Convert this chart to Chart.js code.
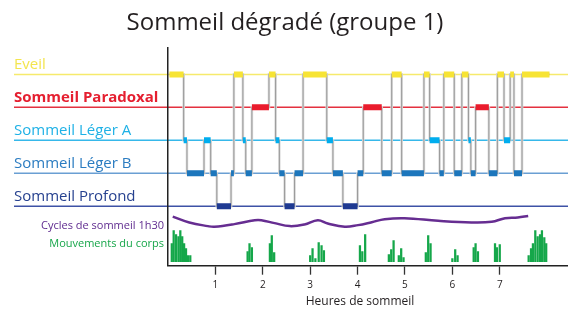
<!DOCTYPE html>
<html lang="fr">
<head>
<meta charset="utf-8">
<title>Sommeil dégradé (groupe 1)</title>
<script src="https://cdn.jsdelivr.net/npm/chart.js@4.4.1/dist/chart.umd.min.js"></script>
<style>
  html, body { margin: 0; padding: 0; background: #fff; }
  #hypno { display: block; }
</style>
</head>
<body>
<canvas id="hypno" width="568" height="310"></canvas>
<script>
// stades, du plus leger au plus profond
const stageNames = ['Eveil', 'Sommeil Paradoxal', 'Sommeil Léger A', 'Sommeil Léger B', 'Sommeil Profond'];
const stageLevels = [5, 4, 3, 2, 1];
const stageColors = ['#f7e434', '#ea1c2d', '#00adee', '#1c76bc', '#1f3a92'];
const stageLineColors = ['#f6ea6c', '#e4313f', '#36b8ea', '#6a9fd3', '#3e52a6'];
const stageTextColors = ['#f3e54f', '#e51f30', '#1eb1e6', '#2b7cc1', '#26418f'];

// hypnogramme : stade de chaque episode (index dans stageNames) et heures de bascule
const episodeStage = [0, 2, 3, 2, 3, 4, 3, 0, 2, 3,
                      1, 0, 2, 3, 4, 3, 0, 2, 3, 4,
                      3, 1, 3, 0, 3, 0, 2, 3, 0, 3,
                      0, 2, 3, 1, 3, 0, 2, 0, 3, 0];
const episodeBounds = [0.03, 0.33, 0.40, 0.76, 0.90, 1.03, 1.33, 1.39, 1.58, 1.64,
                       1.77, 2.13, 2.27, 2.35, 2.46, 2.67, 2.85, 3.35, 3.48, 3.69,
                       4.00, 4.12, 4.51, 4.72, 4.93, 5.40, 5.52, 5.73, 5.82, 6.04,
                       6.20, 6.34, 6.39, 6.49, 6.77, 6.95, 7.09, 7.22, 7.30, 7.47, 8.05];

// cycles de sommeil (courbe violette)
const cycleHours = [0.10, 0.45, 0.84, 0.98, 1.40, 1.83, 1.97, 2.25, 2.57, 2.88, 3.16, 3.37,
                    3.73, 4.01, 4.30, 4.57, 4.99, 5.70, 6.40, 6.83, 7.11, 7.38, 7.60];
const cycleLevel = [0.69, 0.51, 0.40, 0.38, 0.46, 0.58, 0.58, 0.49, 0.40, 0.45, 0.58, 0.48,
                    0.38, 0.43, 0.52, 0.61, 0.64, 0.56, 0.51, 0.53, 0.64, 0.66, 0.71];

// mouvements du corps
const moveHours = [0.08, 0.12, 0.17, 0.22, 0.26, 0.30, 0.34, 0.38, 0.42, 0.47,
                   1.68, 1.72, 1.77,
                   2.15, 2.19, 2.24,
                   3.00, 3.05, 3.11, 3.18, 3.24, 3.29,
                   4.05, 4.10, 4.16,
                   4.66, 4.71, 4.76, 4.87, 4.92, 4.97,
                   5.44, 5.49, 5.54,
                   6.00, 6.06, 6.11,
                   6.45, 6.49, 6.54,
                   6.90, 6.94, 7.00,
                   7.61, 7.66, 7.70, 7.75, 7.80, 7.85, 7.89, 7.94, 7.98];
const moveCounts = [18, 31, 27, 25, 31, 25, 18, 13, 6, 6,
                    10, 18, 14,
                    18, 26, 9,
                    6, 13, 3, 19, 16, 11,
                    16, 10, 27,
                    7, 12, 21, 6, 13, 4,
                    9, 26, 18,
                    3, 12, 6,
                    14, 18, 10,
                    18, 14, 17,
                    6, 13, 18, 31, 25, 27, 31, 24, 18];

const hourTicks = [1, 2, 3, 4, 5, 6, 7];
const hoursMax = 8.44;

// trace gris des transitions
const pathPoints = [];
episodeStage.forEach((s, i) => {
  pathPoints.push({x: episodeBounds[i], y: stageLevels[s]});
  pathPoints.push({x: episodeBounds[i + 1], y: stageLevels[s]});
});

// blocs colores, un dataset par stade
const blockSets = stageNames.map((name, k) => {
  const pts = [];
  episodeStage.forEach((s, i) => {
    if (s !== k) return;
    pts.push({x: episodeBounds[i], y: stageLevels[k]});
    pts.push({x: episodeBounds[i + 1], y: stageLevels[k]});
    pts.push({x: episodeBounds[i + 1], y: null});
  });
  return {
    type: 'line', label: name, data: pts,
    borderColor: stageColors[k], borderWidth: 6, borderCapStyle: 'butt',
    pointRadius: 0, spanGaps: false, order: 3
  };
});

const decor = {
  id: 'decor',
  beforeDraw(chart) {
    const {ctx, chartArea, scales: {y}} = chart;
    ctx.save();
    stageLevels.forEach((lvl, i) => {
      const py = y.getPixelForValue(lvl);
      ctx.strokeStyle = stageLineColors[i];
      ctx.lineWidth = 1.5;
      ctx.beginPath();
      ctx.moveTo(14, py);
      ctx.lineTo(chartArea.right, py);
      ctx.stroke();
      ctx.font = (i === 1 ? 'bold ' : '') + '15px "Open Sans"';
      ctx.fillStyle = stageTextColors[i];
      ctx.textAlign = 'left';
      ctx.textBaseline = 'alphabetic';
      ctx.fillText(stageNames[i], 14, py - 5.5);
    });
    ctx.restore();
  },
  afterDraw(chart) {
    const {ctx} = chart;
    ctx.save();
    ctx.textAlign = 'center';
    ctx.textBaseline = 'middle';
    ctx.font = '24px "Open Sans"';
    ctx.fillStyle = '#231f20';
    ctx.fillText('Sommeil dégradé (groupe 1)', 285, 23);
    ctx.textAlign = 'right';
    ctx.font = '11px "Open Sans"';
    ctx.fillStyle = '#5f2b8f';
    ctx.fillText('Cycles de sommeil 1h30', 164, 226);
    ctx.fillStyle = '#17a64a';
    ctx.fillText('Mouvements du corps', 164, 244);
    ctx.textAlign = 'center';
    ctx.font = '12px "Open Sans"';
    ctx.fillStyle = '#231f20';
    ctx.fillText('Heures de sommeil', 360, 302);
    ctx.restore();
  }
};

new Chart(document.getElementById('hypno'), {
  type: 'line',
  data: {
    datasets: [
      {
        label: 'halo', data: pathPoints, borderColor: '#dedede', borderWidth: 2.6,
        pointRadius: 0, tension: 0, order: 5
      },
      {
        label: 'transitions', data: pathPoints, borderColor: '#9c9c9c', borderWidth: 1.1,
        pointRadius: 0, tension: 0, order: 4
      },
      ...blockSets,
      {
        label: 'Cycles de sommeil 1h30',
        data: cycleHours.map((h, i) => ({x: h, y: cycleLevel[i]})),
        borderColor: '#662d91', borderWidth: 2.5, pointRadius: 0, tension: 0.4, order: 2
      },
      {
        type: 'bar', label: 'Mouvements du corps', yAxisID: 'yM',
        data: moveHours.map((h, i) => ({x: h, y: moveCounts[i]})),
        backgroundColor: '#15a74a', barThickness: 1.6, order: 1
      }
    ]
  },
  options: {
    responsive: false,
    animation: false,
    layout: {padding: {left: 168, right: 0, top: 48, bottom: 0}},
    plugins: {
      legend: {display: false},
      tooltip: {enabled: false},
      title: {display: false}
    },
    scales: {
      x: {
        type: 'linear', min: 0, max: hoursMax, offset: false,
        afterBuildTicks: s => { s.ticks = hourTicks.map(v => ({value: v})); },
        afterFit: s => { s.height = 44.3; },
        grid: {drawOnChartArea: false, drawTicks: true, tickLength: 9, tickColor: '#333', tickWidth: 1.3, offset: false},
        border: {display: true, color: '#222', width: 1.5},
        ticks: {font: {family: 'Open Sans', size: 10}, color: '#231f20', padding: 4, maxRotation: 0}
      },
      y: {
        min: -0.8, max: 5.8,
        afterFit: s => { s.width = 0; },
        grid: {drawOnChartArea: false, drawTicks: false},
        border: {display: true, color: '#222', width: 1.5},
        ticks: {display: false}
      },
      yM: {
        display: false, min: -4, max: 213.7
      }
    }
  },
  plugins: [decor]
});
</script>
</body>
</html>
